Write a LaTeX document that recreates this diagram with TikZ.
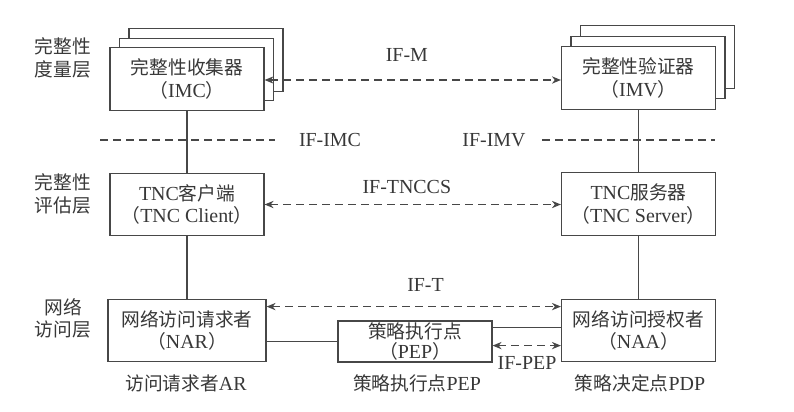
\documentclass[tikz,border=0pt]{standalone}
\usepackage{fontspec}
\setmainfont{Liberation Serif}
\newfontfamily\cjk[Scale=0.94]{Noto Sans CJK SC}
\newcommand{\zh}[1]{{\cjk #1}}
\usetikzlibrary{arrows.meta, positioning, calc}

\begin{document}
\begin{tikzpicture}[x=0.03cm, y=-0.03cm, color=black!72, text=black!78,
  box/.style={draw, fill=white, line width=1pt, minimum width=4.62cm, minimum height=1.88cm, align=center, inner sep=0pt, font=\fontsize{17}{19}\selectfont},
  layer/.style={align=center, inner sep=0pt, font=\fontsize{17}{19}\selectfont},
  iflabel/.style={inner sep=0pt, font=\fontsize{17}{18}\selectfont},
  link/.style={line width=1pt},
  sep/.style={line width=1pt, dash pattern=on 0.24cm off 0.15cm},
  iface/.style={{Stealth[length=2.7mm, width=2.2mm]}-{Stealth[length=2.7mm, width=2.2mm]}, line width=1pt, dash pattern=on 0.24cm off 0.15cm}
]
\useasboundingbox (0,0) rectangle (794,411);

% Layer names on the left
\node[layer] (lmeas) at (63,58) {\zh{完整性}\\\zh{度量层}};
\node[layer] (leval) at (63,194) {\zh{完整性}\\\zh{评估层}};
\node[layer] (lnet) at (63,318) {\zh{网络}\\\zh{访问层}};

% Stacked collector and verifier boxes (back copies first)
\foreach \k in {2,1}{
  \node[box] (imc\k) at (187+\k*9.5, 79-\k*9.5) {};
  \node[box] (imv\k) at (638.5+\k*9.5, 78-\k*10.5) {};
}
\node[box] (imc) at (187,79) {\zh{完整性收集器}\\\zh{（}IMC\zh{）}};
\node[box] (imv) at (638.5,78) {\zh{完整性验证器}\\\zh{（}IMV\zh{）}};

% TNC client and server
\node[box] (tncc) at (187,204.5) {TNC\zh{客户端}\\\zh{（}TNC Client\zh{）}};
\node[box] (tncs) at (638.5,204) {TNC\zh{服务器}\\\zh{（}TNC Server\zh{）}};

% Network access layer
\node[box, minimum width=4.74cm] (nar) at (187,330.5) {\zh{网络访问请求者}\\\zh{（}NAR\zh{）}};
\node[box] (naa) at (638.5,330.5) {\zh{网络访问授权者}\\\zh{（}NAA\zh{）}};
\node[box, minimum height=1.23cm, font=\fontsize{17}{17}\selectfont] (pep) at (415,341.5) {\zh{策略执行点}\\\zh{（}PEP\zh{）}};

% Vertical links
\draw[link] (imc) -- (tncc);
\draw[link] (tncc) -- (nar);
\draw[link] (imv) -- (tncs);
\draw[link] (tncs) -- (naa);
\draw[link] (pep.west) -- (pep.west -| nar.east);
\draw[link] ([yshift=-0.21cm]pep.north east) -- ([yshift=-0.21cm]pep.north east -| naa.west);

% Interface separators
\draw[sep] (100,140) -- (275,140);
\node[iflabel] (ifimc) at (330,140) {IF-IMC};
\node[iflabel] (ifimv) at (494,140) {IF-IMV};
\draw[sep] (542,140) -- (715,140);

% Interfaces between the two sides
\draw[iface] ([yshift=-0.03cm]imc.east) -- node[iflabel, pos=.48, above=0.53cm] (ifm) {IF-M} ([yshift=-0.03cm]imc.east -| imv.west);
\draw[iface] (tncc.east) -- node[iflabel, pos=.48, above=0.31cm] (iftnccs) {IF-TNCCS} (tncc.east -| tncs.west);
\draw[iface] ([yshift=-0.24cm]nar.north east) -- node[iflabel, pos=.54, above=0.43cm] (ift) {IF-T} ([yshift=-0.24cm]nar.north east -| naa.west);
\draw[iface] ([yshift=0.51cm]pep.south east) -- ([yshift=0.51cm]pep.south east -| naa.west);
\node[iflabel] (ifpep) at (527,363) {IF-PEP};

% Names of the three parties
\node[layer] (ar) at (186,383) {\zh{访问请求者}AR};
\node[layer] (pepname) at (417,383) {\zh{策略执行点}PEP};
\node[layer] (pdp) at (640,383) {\zh{策略决定点}PDP};
\end{tikzpicture}
\end{document}
